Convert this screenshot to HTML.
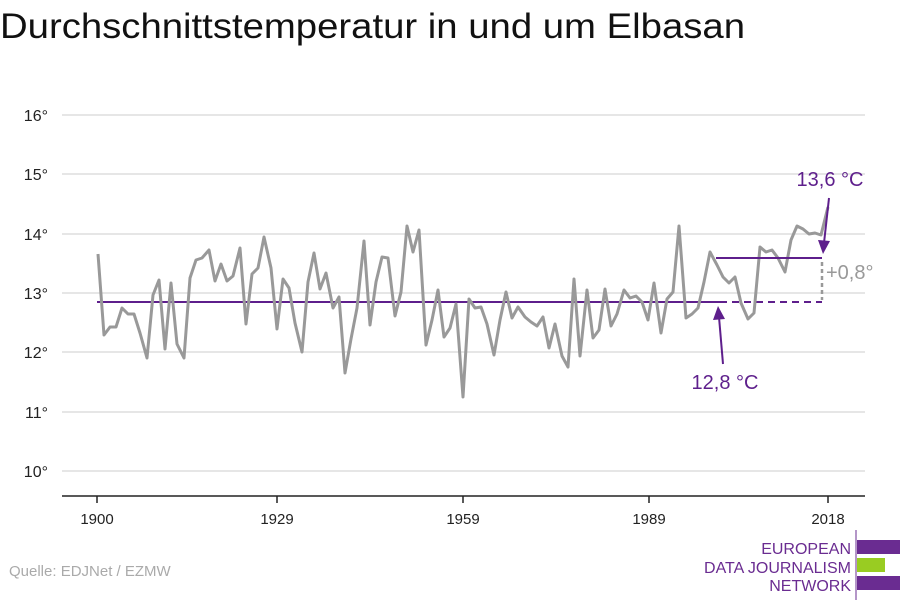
<!DOCTYPE html>
<html><head><meta charset="utf-8"><style>
html,body{margin:0;padding:0;background:#fff;width:900px;height:600px;overflow:hidden}
</style></head><body>
<svg width="900" height="600" xmlns="http://www.w3.org/2000/svg" font-family="Liberation Sans, sans-serif">
<text x="0" y="38" font-size="35" fill="#111" textLength="745" lengthAdjust="spacingAndGlyphs">Durchschnittstemperatur in und um Elbasan</text>
<g stroke="#ddd" stroke-width="1.5">
<line x1="62" y1="115" x2="865" y2="115"/><line x1="62" y1="174" x2="865" y2="174"/>
<line x1="62" y1="234" x2="865" y2="234"/><line x1="62" y1="293" x2="865" y2="293"/>
<line x1="62" y1="352" x2="865" y2="352"/><line x1="62" y1="412" x2="865" y2="412"/>
<line x1="62" y1="471" x2="865" y2="471"/>
</g>
<g font-size="16" fill="#222" text-anchor="end">
<text x="48" y="121">16°</text><text x="48" y="180">15°</text><text x="48" y="240">14°</text>
<text x="48" y="299">13°</text><text x="48" y="358">12°</text><text x="48" y="418">11°</text><text x="48" y="477">10°</text>
</g>
<line x1="62" y1="496" x2="865" y2="496" stroke="#222" stroke-width="1.5"/>
<g stroke="#222" stroke-width="1.5"><line x1="97" y1="496" x2="97" y2="503"/><line x1="277" y1="496" x2="277" y2="503"/><line x1="463" y1="496" x2="463" y2="503"/><line x1="649" y1="496" x2="649" y2="503"/><line x1="828" y1="496" x2="828" y2="503"/></g>
<g font-size="15" fill="#222" text-anchor="middle">
<text x="97" y="524">1900</text><text x="277" y="524">1929</text><text x="463" y="524">1959</text><text x="649" y="524">1989</text><text x="828" y="524">2018</text>
</g>
<line x1="97" y1="302" x2="720" y2="302" stroke="#5e1f8c" stroke-width="2"/>
<line x1="720" y1="302" x2="822" y2="302" stroke="#5e1f8c" stroke-width="2" stroke-dasharray="7,5"/>
<polyline fill="none" stroke="#999" stroke-width="3" stroke-linejoin="round" points="98,254 104,335 110,327 116,327 122,308 128,314 134,314 140,333 147,358 153,295 159,280 165,349 171,283 177,344 184,358 190,278 196,260 202,258 209,250 215,281 221,264 227,281 233,276 240,248 246,324 252,274 258,268 264,237 271,268 277,329 283,279 289,288 295,323 302,352 308,282 314,253 320,289 326,273 333,308 339,297 345,373 351,339 357,308 364,241 370,325 376,282 382,257 388,258 395,316 401,292 407,226 413,252 419,230 426,345 432,320 438,290 444,337 450,328 456,304 463,397 469,299 475,308 481,307 487,324 494,355 500,320 506,292 512,318 518,307 525,317 531,322 537,326 543,317 549,348 555,324 562,356 568,367 574,279 580,356 587,290 593,338 599,330 605,289 611,326 617,314 624,290 630,298 636,296 642,302 648,320 654,283 661,333 667,299 673,292 679,226 686,318 692,314 698,308 704,282 710,252 717,265 723,277 729,283 735,277 741,303 748,319 754,313 760,247 766,252 772,250 778,258 785,272 791,240 797,226 803,229 809,234 815,233 821,235 828,207"/>
<line x1="716" y1="258" x2="822" y2="258" stroke="#5e1f8c" stroke-width="2"/>
<line x1="822" y1="262" x2="822" y2="300" stroke="#999" stroke-width="2.5" stroke-dasharray="4,3"/>
<text x="826" y="279" font-size="20" fill="#999">+0,8°</text>
<line x1="829" y1="198" x2="824" y2="243" stroke="#5e1f8c" stroke-width="2"/>
<polygon points="818,240 830,241 823,254" fill="#5e1f8c"/>
<line x1="723" y1="364" x2="719" y2="317" stroke="#5e1f8c" stroke-width="2"/>
<polygon points="713,320 725,319 718,306" fill="#5e1f8c"/>
<text x="830" y="186" font-size="20" fill="#5e1f8c" text-anchor="middle">13,6 °C</text>
<text x="725" y="389" font-size="20" fill="#5e1f8c" text-anchor="middle">12,8 °C</text>
<text x="9" y="576" font-size="15" fill="#aaa">Quelle: EDJNet / EZMW</text>
<g font-size="16" fill="#6a2c91" text-anchor="end">
<text x="851" y="554">EUROPEAN</text><text x="851" y="573">DATA JOURNALISM</text><text x="851" y="591">NETWORK</text>
</g>
<line x1="856" y1="530" x2="856" y2="600" stroke="#6a2c91" stroke-width="1"/>
<rect x="857" y="540" width="43" height="14" fill="#6a2c91"/>
<rect x="857" y="558" width="28" height="14" fill="#99cc22"/>
<rect x="857" y="576" width="43" height="14" fill="#6a2c91"/>
</svg>
</body></html>
